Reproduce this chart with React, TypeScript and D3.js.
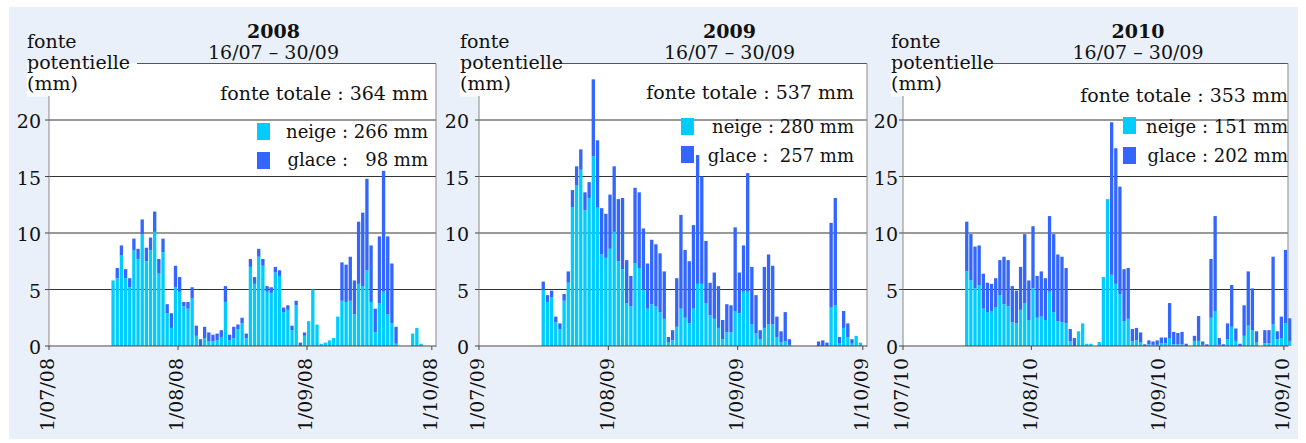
import React from "react";
import * as d3 from "d3";

// ---------- data ----------
const YEARS = [2008, 2009, 2010];
const TITLES = ["2008", "2009", "2010"];
const PERIOD = "16/07 – 30/09";
const Y_LABEL = ["fonte", "potentielle", "(mm)"];
const Y_TICKS = [0, 5, 10, 15, 20];
const X_TICK_LABELS_2008 = ["1/07/08", "1/08/08", "1/09/08", "1/10/08"];
const X_TICK_LABELS_2009 = ["1/07/09", "1/08/09", "1/09/09", "1/10/09"];
const X_TICK_LABELS_2010 = ["1/07/10", "1/08/10", "1/09/10", "1/09/10"];
const TOTAL_LABELS = ["fonte totale : 364 mm", "fonte totale : 537 mm", "fonte totale : 353 mm"];
const NEIGE_LABELS = ["neige : 266 mm", "neige : 280 mm", "neige : 151 mm"];
const GLACE_LABELS = ["glace :   98 mm", "glace :  257 mm", "glace : 202 mm"];

// daily values from 16 July (mm)
const NEIGE_2008 = [
  5.8, 6.0, 8.0, 6.0, 5.2, 8.5, 7.7, 9.9, 7.5, 8.5, 10.1, 6.4, 8.3, 2.9, 1.6, 5.2,
  4.8, 3.5, 3.3, 4.2, 0.9, 0, 0.7, 0.4, 0.4, 0.5, 0.8, 3.9, 0.5, 0.7, 1.5, 2.0,
  0.7, 7.0, 5.5, 7.9, 7.1, 4.8, 4.7, 6.5, 6.2, 3.0, 3.2, 1.4, 3.6, 0, 0.9, 2.2,
  5.0, 1.9, 0.2, 0.3, 0.5, 0.7, 2.6, 4.0, 3.9, 4.0, 2.8, 5.5, 5.3, 6.7, 3.9, 1.2,
  3.8, 4.8, 2.8, 2.0, 0.2, 0, 0, 0, 1.1, 1.6, 0.2, 0, 0,
];
const GLACE_2008 = [
  0, 0.9, 0.9, 0.8, 0.8, 1.0, 0.9, 1.3, 1.2, 1.1, 1.8, 1.3, 1.2, 0.8, 1.3, 1.9,
  1.3, 0.4, 0.6, 1.0, 0.9, 0.6, 1.0, 0.8, 0.6, 0.6, 0.6, 1.4, 0.5, 1.0, 0.4, 0.5,
  0.4, 0.7, 0.6, 0.7, 0.6, 0.5, 0.5, 0.5, 0.5, 0.4, 0.4, 0.4, 0.4, 0.3, 0.3, 0,
  0, 0, 0, 0, 0, 0, 0, 3.4, 3.3, 3.9, 3.0, 5.5, 6.5, 8.1, 5.0, 2.1,
  5.9, 10.7, 6.9, 5.3, 1.5, 0, 0, 0, 0, 0, 0, 0, 0,
];
const NEIGE_2009 = [
  5.0, 3.9, 4.3, 2.1, 1.5, 4.0, 5.6, 12.3, 14.2, 15.6, 12.0, 13.1, 16.8, 12.3, 8.1, 7.8,
  8.6, 10.1, 7.5, 6.8, 3.8, 3.5, 7.3, 6.9, 5.0, 3.3, 3.7, 3.5, 3.0, 2.4, 0.3, 0.5,
  1.7, 3.3, 2.5, 2.0, 3.3, 5.5, 5.5, 3.8, 2.7, 2.4, 1.6, 0.6, 1.2, 1.2, 3.1, 2.9,
  4.8, 4.8, 1.9, 1.1, 0.6, 1.6, 1.9, 1.9, 0.8, 0.3, 0.4, 0.1, 0, 0, 0, 0,
  0, 0, 0, 0, 0, 3.4, 3.6, 0.2, 1.6, 0.8, 0.2, 0.9, 0.3,
];
const GLACE_2009 = [
  0.7, 0.6, 0.6, 0.5, 0.5, 0.6, 1.0, 1.5, 1.7, 1.8, 1.6, 1.4, 6.8, 5.9, 4.1, 3.9,
  4.8, 5.8, 5.5, 6.3, 3.8, 2.7, 6.7, 6.7, 5.4, 4.0, 5.7, 5.5, 5.2, 4.2, 0.5, 0.9,
  4.3, 8.3, 6.0, 5.5, 7.4, 11.4, 9.5, 5.5, 2.9, 4.1, 3.7, 1.7, 2.5, 2.4, 7.4, 3.6,
  4.1, 10.5, 5.1, 3.4, 0.8, 5.4, 6.2, 5.2, 1.8, 1.0, 2.6, 0.5, 0, 0, 0, 0,
  0, 0, 0.4, 0.5, 0.3, 7.5, 9.5, 0.6, 1.5, 1.2, 0.4, 0, 0,
];
const NEIGE_2010 = [
  6.6, 5.8, 5.1, 5.4, 3.3, 3.0, 3.1, 3.4, 4.5, 3.7, 3.5, 2.1, 2.0, 3.2, 3.8, 2.3,
  5.1, 2.5, 2.6, 2.3, 4.8, 3.0, 2.2, 2.1, 2.0, 0.4, 0, 1.3, 2.0, 0.2, 0.2, 0,
  0.35, 6.1, 13.0, 6.3, 5.5, 4.6, 2.2, 2.4, 0.4, 0.5, 0.3, 0, 0.15, 0.1, 0.1, 0.25,
  0.25, 0.7, 0.15, 0.15, 0.15, 0, 0, 0.45, 0.45, 0.1, 0, 2.5, 3.1, 0.1, 0, 0.6,
  1.7, 0.45, 0, 0.9, 1.8, 1.4, 0.3, 0, 0.25, 0.25, 1.9, 0.6, 0.7, 2.0, 0.45,
];
const GLACE_2010 = [
  4.4, 4.1, 3.7, 3.5, 3.1, 2.6, 2.4, 2.6, 3.1, 4.2, 4.1, 3.2, 2.9, 3.8, 6.1, 3.5,
  5.5, 3.7, 4.0, 3.7, 6.7, 6.9, 5.9, 5.8, 4.9, 1.1, 0.7, 0, 0, 0, 0, 0,
  0, 0, 0, 13.5, 12.0, 9.5, 4.6, 4.5, 1.1, 1.1, 0.9, 0.15, 0.35, 0.3, 0.4, 0.5,
  0.5, 3.1, 1.1, 1.0, 1.1, 0.2, 0, 0.45, 2.2, 0.3, 0.15, 5.2, 8.4, 0.6, 0.15, 1.4,
  3.7, 1.1, 0.2, 2.7, 4.8, 3.7, 1.0, 0, 1.15, 1.15, 6.0, 0.7, 1.9, 6.5, 2.0,
];

const NEIGE = [NEIGE_2008, NEIGE_2009, NEIGE_2010];
const GLACE = [GLACE_2008, GLACE_2009, GLACE_2010];
const X_TICK_LABELS = [X_TICK_LABELS_2008, X_TICK_LABELS_2009, X_TICK_LABELS_2010];

// ---------- layout / style ----------
const W = 1306;
const H = 443;
const BG = "#eaf0f9";
const CYAN = "#00ccff";
const BLUE = "#3366ff";
const FONT = "'DejaVu Serif', 'Liberation Serif', serif";
const FS = 19;
const FS_LEG = 18;
const Y0 = 346;
const YTOP = 63.5;

const LAYOUT = [
  { axisX: 49, rightX: 436, labelX: 27, topLineStart: 137, titleX: 273.5, legendRight: 428, squareX: 257, totalY: 100, neigeY: 138, glaceY: 166, sqNeigeY: 123, sqGlaceY: 152, tickRight: 41 },
  { axisX: 479, rightX: 867, labelX: 460, topLineStart: 562, titleX: 729.5, legendRight: 854, squareX: 681, totalY: 99, neigeY: 133, glaceY: 162, sqNeigeY: 118, sqGlaceY: 146, tickRight: 469 },
  { axisX: 903, rightX: 1288, labelX: 891, topLineStart: 992, titleX: 1138, legendRight: 1288, squareX: 1123, totalY: 102, neigeY: 133, glaceY: 162, sqNeigeY: 117, sqGlaceY: 147, tickRight: 898 },
];

function Panel({ idx }: { idx: number }) {
  const L = LAYOUT[idx];
  const year = YEARS[idx];
  const x = d3
    .scaleTime()
    .domain([new Date(year, 6, 1), new Date(year, 9, 2)])
    .range([L.axisX, L.rightX]);
  const y = d3.scaleLinear().domain([0, 25]).range([Y0, YTOP]);
  const neige = NEIGE[idx];
  const glace = GLACE[idx];
  const tickDates = [new Date(year, 6, 1), new Date(year, 7, 1), new Date(year, 8, 1), new Date(year, 9, 1)];

  return (
    <g>
      {/* plot background */}
      <rect x={L.axisX} y={YTOP} width={L.rightX - L.axisX} height={Y0 - YTOP + 1} fill="#fff" />
      <rect x={L.labelX} y={YTOP} width={L.axisX - L.labelX} height={33} fill="#fff" />
      {/* grid lines */}
      {Y_TICKS.filter((t) => t > 0).map((t) => (
        <line key={t} x1={L.axisX} x2={L.rightX} y1={y(t)} y2={y(t)} stroke="#333" strokeWidth={1} />
      ))}
      {/* bars */}
      {neige.map((n, i) => {
        const d = new Date(year, 6, 16 + i);
        const x0 = x(d);
        const bw = (x(d3.timeDay.offset(d, 1)) - x0) * 0.8;
        const g = glace[i];
        return (
          <g key={i}>
            {n > 0 && <rect x={x0} y={y(n)} width={bw} height={y(0) - y(n)} fill={CYAN} />}
            {g > 0 && <rect x={x0} y={y(n + g)} width={bw} height={y(n) - y(n + g)} fill={BLUE} />}
          </g>
        );
      })}
      {/* frame */}
      <line x1={L.topLineStart} x2={L.rightX} y1={YTOP} y2={YTOP} stroke="#555" />
      <line x1={L.rightX} x2={L.rightX} y1={YTOP} y2={Y0 + 1} stroke="#888" />
      <line x1={L.axisX} x2={L.axisX} y1={96} y2={Y0} stroke="#888" />
      <line x1={L.axisX} x2={L.rightX} y1={Y0} y2={Y0} stroke="#444" />
      {/* y ticks */}
      {Y_TICKS.map((t) => (
        <g key={t}>
          <line x1={L.axisX - 4} x2={L.axisX} y1={y(t)} y2={y(t)} stroke="#444" />
          <text x={L.tickRight} y={y(t) + 8} textAnchor="end" fontSize={FS} fontFamily={FONT} fill="#111">
            {t}
          </text>
        </g>
      ))}
      {/* x ticks */}
      {tickDates.map((d, k) => (
        <g key={k}>
          <line x1={x(d)} x2={x(d)} y1={Y0} y2={Y0 + 4} stroke="#444" />
          <text
            transform={`translate(${x(d) - 1},358) rotate(-90)`}
            textAnchor="end"
            dy="0.33em"
            fontSize={FS}
            fontFamily={FONT}
            fill="#111"
          >
            {X_TICK_LABELS[idx][k]}
          </text>
        </g>
      ))}
      {/* y label */}
      {Y_LABEL.map((s, k) => (
        <text key={k} x={L.labelX} y={48 + k * 21} fontSize={FS} fontFamily={FONT} fill="#111">
          {s}
        </text>
      ))}
      {/* titles */}
      <text x={L.titleX} y={38} textAnchor="middle" fontSize={FS} fontWeight="bold" fontFamily={FONT} fill="#111">
        {TITLES[idx]}
      </text>
      <text x={L.titleX} y={59} textAnchor="middle" fontSize={FS} fontFamily={FONT} fill="#111">
        {PERIOD}
      </text>
      {/* legend */}
      <text x={L.legendRight} y={L.totalY} textAnchor="end" fontSize={FS} fontFamily={FONT} fill="#111" style={{ whiteSpace: "pre" }}>
        {TOTAL_LABELS[idx]}
      </text>
      <rect x={L.squareX} y={L.sqNeigeY} width={13} height={17} fill={CYAN} />
      <text x={L.legendRight} y={L.neigeY} textAnchor="end" fontSize={FS_LEG} fontFamily={FONT} fill="#111" style={{ whiteSpace: "pre" }}>
        {NEIGE_LABELS[idx]}
      </text>
      <rect x={L.squareX} y={L.sqGlaceY} width={13} height={17} fill={BLUE} />
      <text x={L.legendRight} y={L.glaceY} textAnchor="end" fontSize={FS_LEG} fontFamily={FONT} fill="#111" style={{ whiteSpace: "pre" }}>
        {GLACE_LABELS[idx]}
      </text>
    </g>
  );
}

export default function App() {
  return (
    <svg
      width={W}
      height={H}
      viewBox={`0 0 ${W} ${H}`}
      style={{ position: "absolute", left: 0, top: 0, background: "#fff" }}
    >
      <rect x={0} y={0} width={W} height={H} fill="#fff" />
      <rect x={9} y={7} width={1289} height={432} fill={BG} />
      {YEARS.map((_, i) => (
        <Panel key={i} idx={i} />
      ))}
    </svg>
  );
}
